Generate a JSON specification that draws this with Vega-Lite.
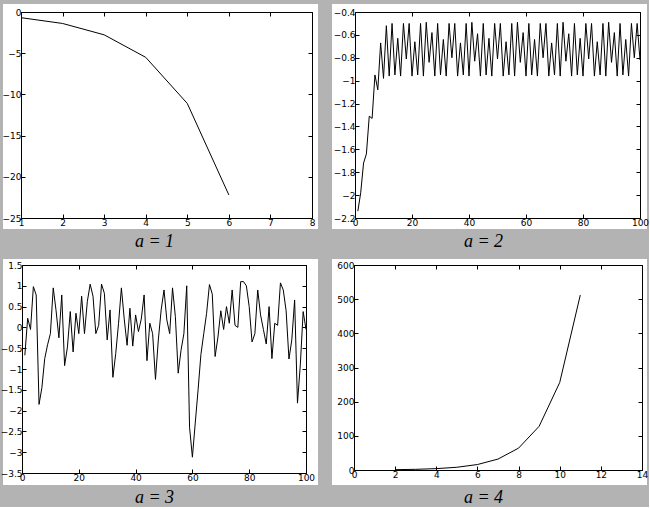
{
  "$schema": "https://vega.github.io/schema/vega-lite/v6.json",
  "background": "#b3b3b3",
  "padding": {"left": 0, "top": 4, "right": 0, "bottom": 0},
  "columns": 2,
  "spacing": {"row": 8, "column": 14},
  "datasets": {
    "p1": [
      {"x": 1, "y": -0.69}, {"x": 2, "y": -1.39}, {"x": 3, "y": -2.77},
      {"x": 4, "y": -5.5}, {"x": 5, "y": -11.1}, {"x": 6, "y": -22.2}
    ],
    "p2": [
      {"x": 1, "y": -2.14}, {"x": 2, "y": -1.98}, {"x": 3, "y": -1.72}, {"x": 4, "y": -1.64}, {"x": 5, "y": -1.31},
      {"x": 6, "y": -1.33}, {"x": 7, "y": -0.95}, {"x": 8, "y": -1.08}, {"x": 9, "y": -0.67}, {"x": 10, "y": -0.98},
      {"x": 11, "y": -0.52}, {"x": 12, "y": -0.96}, {"x": 13, "y": -0.5}, {"x": 14, "y": -0.95}, {"x": 15, "y": -0.63},
      {"x": 16, "y": -0.96}, {"x": 17, "y": -0.5}, {"x": 18, "y": -0.81}, {"x": 19, "y": -0.5}, {"x": 20, "y": -0.96},
      {"x": 21, "y": -0.66}, {"x": 22, "y": -0.95}, {"x": 23, "y": -0.5}, {"x": 24, "y": -0.96}, {"x": 25, "y": -0.49},
      {"x": 26, "y": -0.84}, {"x": 27, "y": -0.58}, {"x": 28, "y": -0.96}, {"x": 29, "y": -0.5}, {"x": 30, "y": -0.95},
      {"x": 31, "y": -0.64}, {"x": 32, "y": -0.96}, {"x": 33, "y": -0.5}, {"x": 34, "y": -0.8}, {"x": 35, "y": -0.5},
      {"x": 36, "y": -0.96}, {"x": 37, "y": -0.67}, {"x": 38, "y": -0.95}, {"x": 39, "y": -0.5}, {"x": 40, "y": -0.96},
      {"x": 41, "y": -0.49}, {"x": 42, "y": -0.83}, {"x": 43, "y": -0.59}, {"x": 44, "y": -0.96}, {"x": 45, "y": -0.5},
      {"x": 46, "y": -0.95}, {"x": 47, "y": -0.63}, {"x": 48, "y": -0.96}, {"x": 49, "y": -0.5}, {"x": 50, "y": -0.81},
      {"x": 51, "y": -0.5}, {"x": 52, "y": -0.96}, {"x": 53, "y": -0.66}, {"x": 54, "y": -0.95}, {"x": 55, "y": -0.5},
      {"x": 56, "y": -0.96}, {"x": 57, "y": -0.49}, {"x": 58, "y": -0.84}, {"x": 59, "y": -0.58}, {"x": 60, "y": -0.96},
      {"x": 61, "y": -0.5}, {"x": 62, "y": -0.95}, {"x": 63, "y": -0.64}, {"x": 64, "y": -0.96}, {"x": 65, "y": -0.5},
      {"x": 66, "y": -0.8}, {"x": 67, "y": -0.5}, {"x": 68, "y": -0.96}, {"x": 69, "y": -0.67}, {"x": 70, "y": -0.95},
      {"x": 71, "y": -0.5}, {"x": 72, "y": -0.96}, {"x": 73, "y": -0.49}, {"x": 74, "y": -0.83}, {"x": 75, "y": -0.59},
      {"x": 76, "y": -0.96}, {"x": 77, "y": -0.5}, {"x": 78, "y": -0.95}, {"x": 79, "y": -0.63}, {"x": 80, "y": -0.96},
      {"x": 81, "y": -0.5}, {"x": 82, "y": -0.81}, {"x": 83, "y": -0.5}, {"x": 84, "y": -0.96}, {"x": 85, "y": -0.66},
      {"x": 86, "y": -0.95}, {"x": 87, "y": -0.5}, {"x": 88, "y": -0.96}, {"x": 89, "y": -0.49}, {"x": 90, "y": -0.84},
      {"x": 91, "y": -0.58}, {"x": 92, "y": -0.96}, {"x": 93, "y": -0.5}, {"x": 94, "y": -0.95}, {"x": 95, "y": -0.64},
      {"x": 96, "y": -0.96}, {"x": 97, "y": -0.5}, {"x": 98, "y": -0.8}, {"x": 99, "y": -0.5}, {"x": 100, "y": -0.82}
    ],
    "p3": [
      {"x": 1, "y": -0.67}, {"x": 2, "y": 0.22}, {"x": 3, "y": -0.05}, {"x": 4, "y": 0.98}, {"x": 5, "y": 0.78},
      {"x": 6, "y": -1.85}, {"x": 7, "y": -1.45}, {"x": 8, "y": -0.75}, {"x": 9, "y": -0.42}, {"x": 10, "y": -0.15},
      {"x": 11, "y": 0.95}, {"x": 12, "y": 0.4}, {"x": 13, "y": -0.25}, {"x": 14, "y": 0.78}, {"x": 15, "y": -0.92},
      {"x": 16, "y": -0.47}, {"x": 17, "y": 0.38}, {"x": 18, "y": -0.59}, {"x": 19, "y": 0.34}, {"x": 20, "y": -0.15},
      {"x": 21, "y": 0.75}, {"x": 22, "y": -0.15}, {"x": 23, "y": 0.62}, {"x": 24, "y": 1.04}, {"x": 25, "y": 0.75},
      {"x": 26, "y": -0.15}, {"x": 27, "y": 0.05}, {"x": 28, "y": 1.04}, {"x": 29, "y": 0.82}, {"x": 30, "y": -0.3},
      {"x": 31, "y": 0.42}, {"x": 32, "y": -1.2}, {"x": 33, "y": -0.63}, {"x": 34, "y": 0.1}, {"x": 35, "y": 0.95},
      {"x": 36, "y": 0.2}, {"x": 37, "y": -0.43}, {"x": 38, "y": 0.46}, {"x": 39, "y": -0.45}, {"x": 40, "y": 0.3},
      {"x": 41, "y": -0.1}, {"x": 42, "y": 0.2}, {"x": 43, "y": 0.78}, {"x": 44, "y": -0.8}, {"x": 45, "y": 0.1},
      {"x": 46, "y": -0.15}, {"x": 47, "y": -1.25}, {"x": 48, "y": -0.3}, {"x": 49, "y": 0.42}, {"x": 50, "y": 0.9},
      {"x": 51, "y": 0.18}, {"x": 52, "y": -0.15}, {"x": 53, "y": 0.95}, {"x": 54, "y": 0.26}, {"x": 55, "y": -1.1},
      {"x": 56, "y": -0.55}, {"x": 57, "y": -0.15}, {"x": 58, "y": 1.0}, {"x": 59, "y": -2.4}, {"x": 60, "y": -3.12},
      {"x": 61, "y": -2.3}, {"x": 62, "y": -1.5}, {"x": 63, "y": -0.65}, {"x": 64, "y": -0.15}, {"x": 65, "y": 0.34},
      {"x": 66, "y": 1.03}, {"x": 67, "y": 0.8}, {"x": 68, "y": -0.7}, {"x": 69, "y": -0.23}, {"x": 70, "y": 0.4},
      {"x": 71, "y": -0.05}, {"x": 72, "y": 0.5}, {"x": 73, "y": 0.1}, {"x": 74, "y": 0.9}, {"x": 75, "y": 0.05},
      {"x": 76, "y": 0.0}, {"x": 77, "y": 1.1}, {"x": 78, "y": 1.1}, {"x": 79, "y": 1.0}, {"x": 80, "y": 0.5},
      {"x": 81, "y": -0.35}, {"x": 82, "y": -0.15}, {"x": 83, "y": 0.9}, {"x": 84, "y": 0.3}, {"x": 85, "y": -0.05},
      {"x": 86, "y": -0.4}, {"x": 87, "y": 0.5}, {"x": 88, "y": -0.75}, {"x": 89, "y": 0.1}, {"x": 90, "y": 0.05},
      {"x": 91, "y": 1.07}, {"x": 92, "y": 0.9}, {"x": 93, "y": 0.4}, {"x": 94, "y": -0.76}, {"x": 95, "y": -0.3},
      {"x": 96, "y": 0.66}, {"x": 97, "y": -1.82}, {"x": 98, "y": -0.9}, {"x": 99, "y": 0.38}, {"x": 100, "y": -0.05}
    ],
    "p4": [
      {"x": 2, "y": 1}, {"x": 3, "y": 2}, {"x": 4, "y": 4}, {"x": 5, "y": 8}, {"x": 6, "y": 16},
      {"x": 7, "y": 32}, {"x": 8, "y": 64}, {"x": 9, "y": 128}, {"x": 10, "y": 256}, {"x": 11, "y": 512}
    ]
  },
  "concat": [
    {
      "width": 315, "height": 225,
      "title": {"text": "a = 1", "orient": "bottom", "dx": -6},
      "data": {"name": "p1"},
      "layer": [
        {
          "mark": {"type": "line", "color": "black", "strokeWidth": 1},
          "encoding": {
            "x": {"field": "x", "type": "quantitative", "scale": {"domain": [1, 8], "range": [18, 309], "nice": false, "zero": false},
                  "axis": {"orient": "bottom", "offset": -11, "title": null, "format": ".6~g", "values": [1, 2, 3, 4, 5, 6, 7, 8]}},
            "y": {"field": "y", "type": "quantitative", "scale": {"domain": [-25, 0], "range": [214, 8], "nice": false, "zero": false},
                  "axis": {"orient": "left", "offset": -18, "title": null, "format": ".6~g", "values": [0, -5, -10, -15, -20, -25]}}
          }
        },
        {
          "mark": {"type": "line", "strokeOpacity": 0},
          "encoding": {
            "x": {"field": "x", "type": "quantitative", "axis": {"orient": "top", "offset": -8, "title": null, "labels": false, "values": [1, 2, 3, 4, 5, 6, 7, 8]}},
            "y": {"field": "y", "type": "quantitative", "axis": {"orient": "right", "offset": -6, "title": null, "labels": false, "values": [0, -5, -10, -15, -20, -25]}}
          }
        }
      ],
      "resolve": {"axis": {"x": "independent", "y": "independent"}}
    },
    {
      "width": 315, "height": 225,
      "title": {"text": "a = 2", "orient": "bottom", "dx": -6},
      "data": {"name": "p2"},
      "layer": [
        {
          "mark": {"type": "line", "color": "black", "strokeWidth": 1},
          "encoding": {
            "x": {"field": "x", "type": "quantitative", "scale": {"domain": [0, 100], "range": [23, 308], "nice": false, "zero": false},
                  "axis": {"orient": "bottom", "offset": -11, "title": null, "format": ".6~g", "values": [0, 20, 40, 60, 80, 100]}},
            "y": {"field": "y", "type": "quantitative", "scale": {"domain": [-2.2, -0.4], "range": [214, 8], "nice": false, "zero": false},
                  "axis": {"orient": "left", "offset": -23, "title": null, "format": ".6~g", "values": [-0.4, -0.6, -0.8, -1, -1.2, -1.4, -1.6, -1.8, -2, -2.2]}}
          }
        },
        {
          "mark": {"type": "line", "strokeOpacity": 0},
          "encoding": {
            "x": {"field": "x", "type": "quantitative", "axis": {"orient": "top", "offset": -8, "title": null, "labels": false, "values": [0, 20, 40, 60, 80, 100]}},
            "y": {"field": "y", "type": "quantitative", "axis": {"orient": "right", "offset": -7, "title": null, "labels": false, "values": [-0.4, -0.6, -0.8, -1, -1.2, -1.4, -1.6, -1.8, -2, -2.2]}}
          }
        }
      ],
      "resolve": {"axis": {"x": "independent", "y": "independent"}}
    },
    {
      "width": 315, "height": 226,
      "title": {"text": "a = 3", "orient": "bottom", "dx": -6},
      "data": {"name": "p3"},
      "layer": [
        {
          "mark": {"type": "line", "color": "black", "strokeWidth": 1},
          "encoding": {
            "x": {"field": "x", "type": "quantitative", "scale": {"domain": [0, 100], "range": [19, 303], "nice": false, "zero": false},
                  "axis": {"orient": "bottom", "offset": -12, "title": null, "format": ".6~g", "values": [0, 20, 40, 60, 80, 100]}},
            "y": {"field": "y", "type": "quantitative", "scale": {"domain": [-3.5, 1.5], "range": [214, 6], "nice": false, "zero": false},
                  "axis": {"orient": "left", "offset": -19, "title": null, "format": ".6~g", "values": [1.5, 1, 0.5, 0, -0.5, -1, -1.5, -2, -2.5, -3, -3.5]}}
          }
        },
        {
          "mark": {"type": "line", "strokeOpacity": 0},
          "encoding": {
            "x": {"field": "x", "type": "quantitative", "axis": {"orient": "top", "offset": -6, "title": null, "labels": false, "values": [0, 20, 40, 60, 80, 100]}},
            "y": {"field": "y", "type": "quantitative", "axis": {"orient": "right", "offset": -12, "title": null, "labels": false, "values": [1.5, 1, 0.5, 0, -0.5, -1, -1.5, -2, -2.5, -3, -3.5]}}
          }
        }
      ],
      "resolve": {"axis": {"x": "independent", "y": "independent"}}
    },
    {
      "width": 315, "height": 226,
      "title": {"text": "a = 4", "orient": "bottom", "dx": -6},
      "data": {"name": "p4"},
      "layer": [
        {
          "mark": {"type": "line", "color": "black", "strokeWidth": 1},
          "encoding": {
            "x": {"field": "x", "type": "quantitative", "scale": {"domain": [0, 14], "range": [22, 310], "nice": false, "zero": false},
                  "axis": {"orient": "bottom", "offset": -15, "title": null, "format": ".6~g", "values": [0, 2, 4, 6, 8, 10, 12, 14]}},
            "y": {"field": "y", "type": "quantitative", "scale": {"domain": [0, 600], "range": [211, 6], "nice": false, "zero": false},
                  "axis": {"orient": "left", "offset": -22, "title": null, "format": ".6~g", "values": [0, 100, 200, 300, 400, 500, 600]}}
          }
        },
        {
          "mark": {"type": "line", "strokeOpacity": 0},
          "encoding": {
            "x": {"field": "x", "type": "quantitative", "axis": {"orient": "top", "offset": -6, "title": null, "labels": false, "values": [0, 2, 4, 6, 8, 10, 12, 14]}},
            "y": {"field": "y", "type": "quantitative", "axis": {"orient": "right", "offset": -5, "title": null, "labels": false, "values": [0, 100, 200, 300, 400, 500, 600]}}
          }
        }
      ],
      "resolve": {"axis": {"x": "independent", "y": "independent"}}
    }
  ],
  "config": {
    "view": {"fill": "white", "stroke": null},
    "axis": {
      "grid": false,
      "domainColor": "black",
      "domainWidth": 1,
      "tickColor": "black",
      "tickWidth": 1,
      "tickSize": -4,
      "labelColor": "black",
      "labelFont": "DejaVu Sans",
      "labelFontSize": 9,
      "labelPadding": 4,
      "labelFlush": false,
      "labelOverlap": false,
      "labelBound": false
    },
    "title": {
      "font": "Liberation Serif",
      "fontSize": 18,
      "fontStyle": "italic",
      "fontWeight": "normal",
      "color": "black",
      "offset": 4
    }
  }
}
